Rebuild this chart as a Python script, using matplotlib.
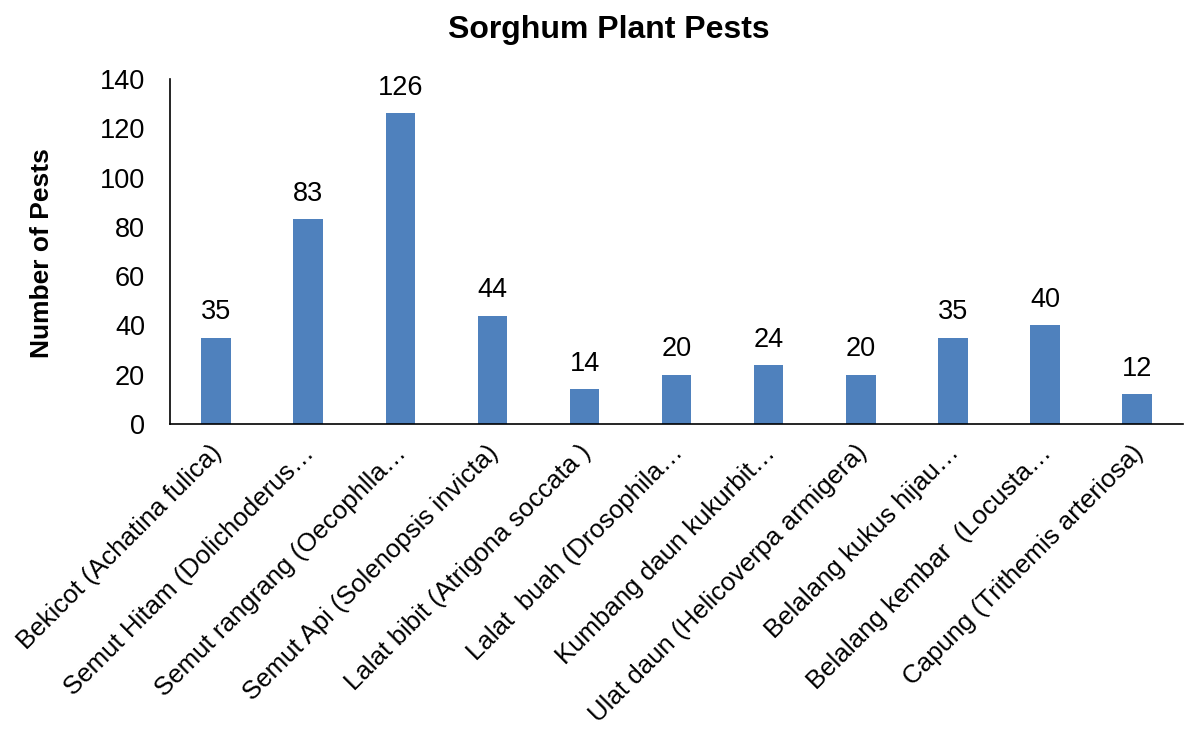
import matplotlib
matplotlib.use('Agg')
import matplotlib.pyplot as plt
import matplotlib.transforms as mtransforms

plt.rcParams['font.family'] = ['Liberation Sans', 'DejaVu Sans']

labels = ['Bekicot (Achatina fulica)', 'Semut Hitam (Dolichoderus…',
          'Semut rangrang (Oecophlla…', 'Semut Api (Solenopsis invicta)',
          'Lalat bibit (Atrigona soccata )', 'Lalat  buah (Drosophila…',
          'Kumbang daun kukurbit…', 'Ulat daun (Helicoverpa armigera)',
          'Belalang kukus hijau…', 'Belalang kembar  (Locusta…',
          'Capung (Trithemis arteriosa)']
counts = [35, 83, 126, 44, 14, 20, 24, 20, 35, 40, 12]

fig = plt.figure(figsize=(11.85, 7.31), dpi=100)
ax = fig.add_axes([0.1435, 0.42, 0.855, 0.472])

x = range(len(counts))
bars = ax.bar(x, counts, width=0.32, color='#4f81bd')
for b, v in zip(bars, counts):
    ax.text(b.get_x() + b.get_width() / 2, v + 5, str(v), ha='center', va='bottom', fontsize=19.5)

ax.set_xlim(-0.5, len(counts) - 0.5)
ax.set_ylim(0, 140)
ax.set_yticks(range(0, 141, 20))
ax.set_xticks(list(x))
ax.set_xticklabels(labels, rotation=45, ha='right', rotation_mode='anchor', fontsize=18.6)
ax.tick_params(axis='both', length=0)
ax.tick_params(axis='y', pad=18, labelsize=19.5)
ax.tick_params(axis='x', pad=12)
# nudge the slanted labels a little to the left
shift = mtransforms.ScaledTranslation(-6 / 100, 0, fig.dpi_scale_trans)
for lab in ax.get_xticklabels():
    lab.set_transform(lab.get_transform() + shift)
ax.spines['top'].set_visible(False)
ax.spines['right'].set_visible(False)
ax.spines['left'].set_linewidth(1.2)
ax.spines['bottom'].set_linewidth(1.2)

fig.text(42 / 1185, 1 - 253 / 731, 'Number of Pests', rotation=90, ha='center', va='center',
         fontsize=19, fontweight='bold')
fig.text(609 / 1185, 1 - 30 / 731, 'Sorghum Plant Pests', ha='center', va='center',
         fontsize=23, fontweight='bold')

fig.savefig('out.png', dpi=100)
